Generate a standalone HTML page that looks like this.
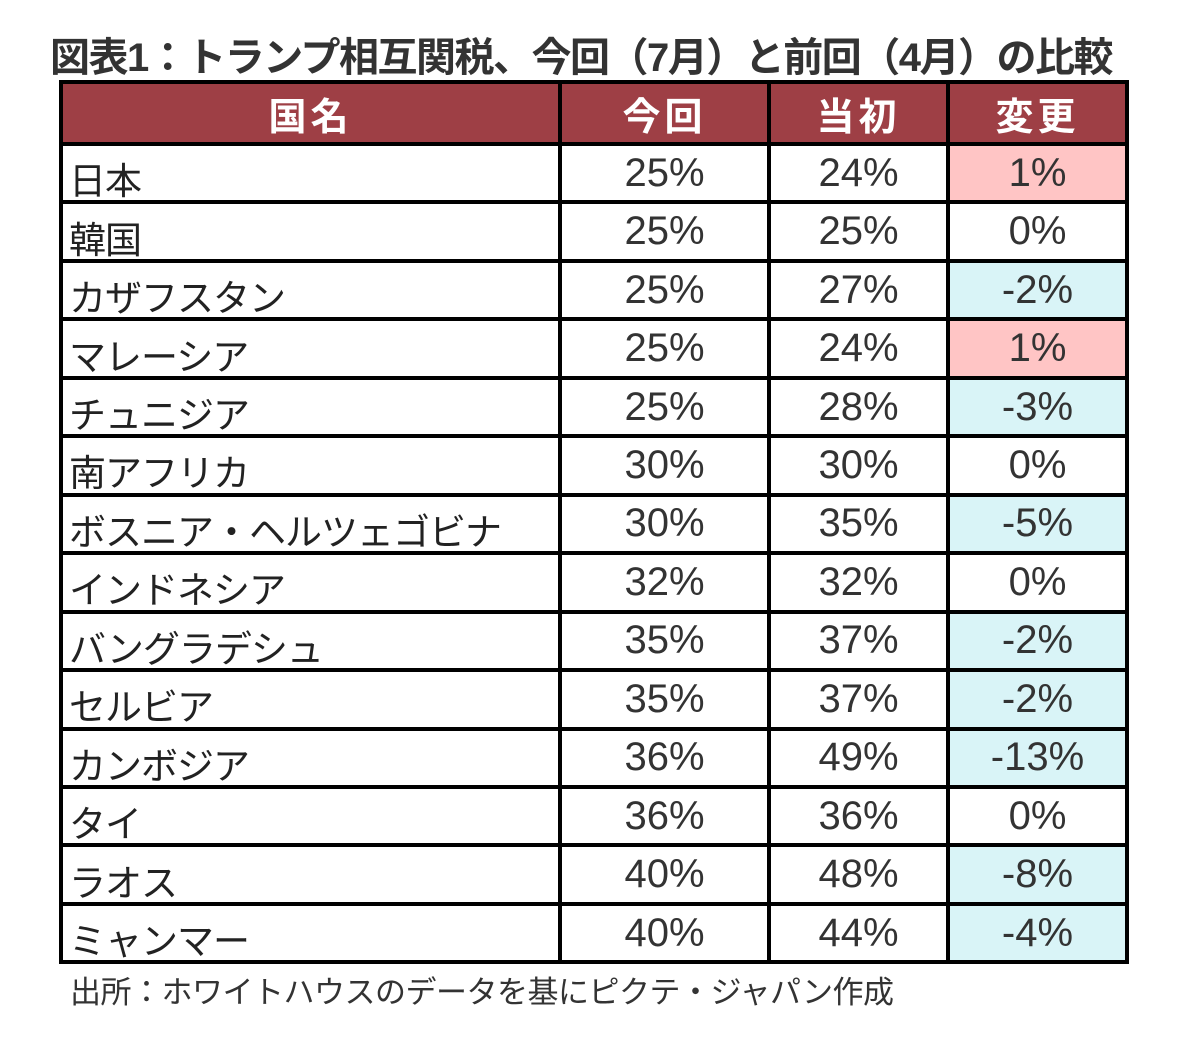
<!DOCTYPE html>
<html><head><meta charset="utf-8"><style>
body{margin:0;width:1182px;height:1037px;background:#fff;position:relative;overflow:hidden;font-family:"Liberation Sans","Noto Sans CJK JP",sans-serif;}
.t{position:absolute;white-space:nowrap;}
.c{position:absolute;box-sizing:border-box;display:flex;align-items:center;justify-content:center;color:#333;font-size:40px;}
.l{position:absolute;background:#000;}
</style></head><body>
<div class="t" style="left:50px;top:25px;font-size:40px;font-weight:bold;color:#333;letter-spacing:-1.5px;">図表1：トランプ相互関税、今回（7月）と前回（4月）の比較</div>
<div id="tbl"></div>
<div class="t" style="left:70px;top:967px;font-size:31px;color:#333;letter-spacing:-0.5px;">出所：ホワイトハウスのデータを基にピクテ・ジャパン作成</div>
<script>
const countries=["日本","韓国","カザフスタン","マレーシア","チュニジア","南アフリカ","ボスニア・ヘルツェゴビナ","インドネシア","バングラデシュ","セルビア","カンボジア","タイ","ラオス","ミャンマー"];
const current=[25,25,25,25,25,30,30,32,35,35,36,36,40,40];
const initial=[24,25,27,24,28,30,35,32,37,37,49,36,48,44];
const headers=["国名","今回","当初","変更"];
const xs=[61,560,769,948,1127];
const top0=83,hdrB=144,rowH=58.45;
const tb=document.getElementById('tbl');
function cell(x,y,w,h,txt,bg,css){const d=document.createElement('div');d.className='c';d.style.cssText=`left:${x}px;top:${y}px;width:${w}px;height:${h}px;background:${bg};`+(css||'');d.textContent=txt;tb.appendChild(d);return d;}
headers.forEach((h,i)=>{const d=cell(xs[i],top0,xs[i+1]-xs[i],hdrB-top0,h,'#9e3f45','color:#fff;font-weight:bold;font-size:38px;letter-spacing:4px;');

});
countries.forEach((c,r)=>{const y=hdrB+r*rowH;const ch=current[r]-initial[r];
const bg=ch>0?'#ffc5c5':ch<0?'#d9f4f7':'#fff';
const a=cell(xs[0],y,xs[1]-xs[0],rowH,c,'#fff','justify-content:flex-start;padding-left:8px;padding-top:10px;color:#222;font-size:37px;letter-spacing:-1px;');


const b=cell(xs[1],y,xs[2]-xs[1],rowH,current[r]+'%','#fff');


const d=cell(xs[2],y,xs[3]-xs[2],rowH,initial[r]+'%','#fff');


const e=cell(xs[3],y,xs[4]-xs[3],rowH,ch+'%',bg);

});
function line(x,y,w,h){const d=document.createElement('div');d.className='l';d.style.cssText=`left:${x}px;top:${y}px;width:${w}px;height:${h}px;`;


tb.appendChild(d);}
const bottom=hdrB+countries.length*rowH;
line(xs[0]-2,top0-3,xs[4]-xs[0]+4,4);
for(let r=0;r<=countries.length;r++)line(xs[0]-2,hdrB+r*rowH-2,xs[4]-xs[0]+4,4);
xs.forEach(x=>line(x-2,top0-3,4,bottom-top0+5));
</script>
</body></html>
